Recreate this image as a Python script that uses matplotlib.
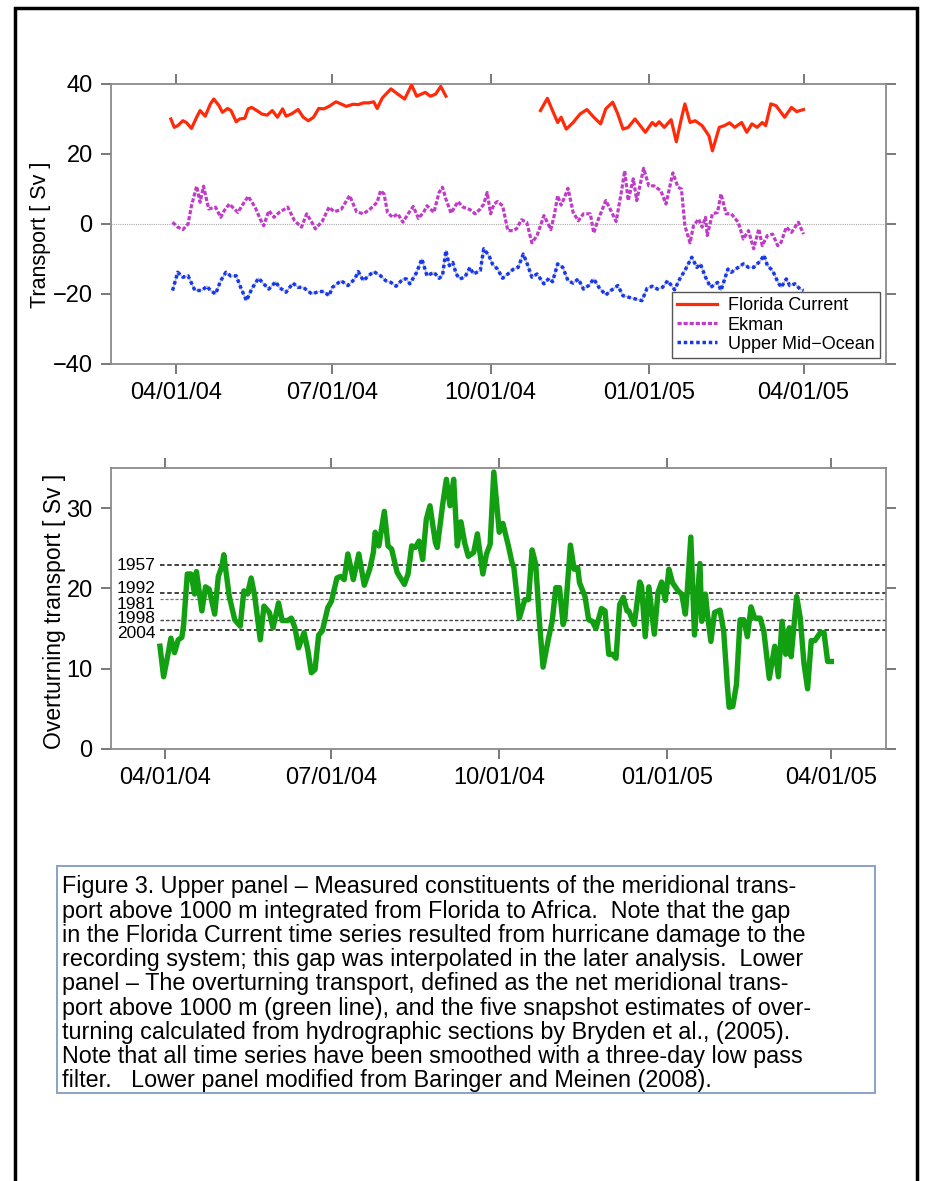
import numpy as np
import matplotlib
matplotlib.use("Agg")
from matplotlib import pyplot as plt
import matplotlib.dates as mdates
from matplotlib.patches import Rectangle

plt.rcParams['font.family'] = ['Liberation Sans', 'DejaVu Sans']

# day offsets are counted from 04/01/04
fc_days_a = [-3, -1, 1, 4, 6, 9, 12, 14, 17, 20, 22, 25, 27, 30, 32, 35, 37, 40, 42, 44, 47, 50, 53, 56,
             59, 62, 64, 67, 71, 74, 77, 80, 83, 86, 89, 93, 96, 99, 103, 106, 109, 112, 115, 117, 120,
             125, 129, 133, 137, 140, 145, 148, 151, 154, 157]
fc_vals_a = [30.0, 27.6, 28.1, 29.5, 29.0, 27.3, 30.5, 32.4, 30.8, 34.3, 35.7, 33.8, 31.9, 33.0, 32.4,
             29.2, 30.0, 30.2, 32.9, 33.3, 32.4, 31.4, 31.1, 32.4, 30.5, 32.9, 30.8, 31.4, 32.7, 30.5,
             29.5, 30.5, 33.0, 32.9, 33.6, 34.9, 34.3, 33.6, 34.2, 34.1, 34.6, 34.6, 34.9, 33.0, 36.0,
             38.6, 37.1, 35.7, 39.7, 36.5, 37.6, 36.5, 37.1, 39.3, 36.5]
fc_days_b = [212, 216, 219, 222, 224, 227, 231, 235, 239, 243, 247, 250, 254, 257, 260, 263, 267, 270,
             273, 277, 279, 281, 284, 288, 291, 294, 296, 299, 302, 306, 310, 312, 316, 319, 322, 325,
             329, 332, 335, 338, 341, 343, 346, 349, 354, 358, 361, 365]
fc_vals_b = [32.4, 35.9, 32.4, 29.0, 30.5, 27.1, 29.0, 31.4, 32.7, 30.5, 28.6, 32.9, 34.8, 31.4, 27.1,
             27.6, 30.0, 28.1, 26.2, 29.0, 28.1, 29.2, 27.6, 29.8, 23.5, 30.2, 34.3, 29.0, 29.5, 28.1,
             25.2, 20.9, 27.6, 28.1, 28.9, 27.6, 29.0, 26.2, 28.6, 27.6, 29.0, 28.1, 34.3, 33.8, 30.5,
             33.3, 32.1, 32.7]

ek_days = [-2, 1, 4, 7, 9, 12, 14, 16, 19, 23, 26, 28, 31, 36, 39, 42, 46, 49, 51, 54, 57, 60, 65, 69,
           73, 76, 79, 81, 85, 89, 92, 96, 101, 105, 109, 113, 117, 119, 121, 123, 126, 129, 132, 135,
           138, 141, 144, 146, 150, 153, 155, 157, 160, 164, 167, 171, 174, 177, 179, 181, 183, 185,
           187, 190, 193, 196, 198, 201, 204, 207, 210, 212, 214, 216, 218, 220, 222, 224, 226, 228,
           231, 234, 237, 241, 243, 245, 250, 253, 256, 259, 261, 263, 266, 268, 272, 275, 278, 282,
           285, 289, 292, 294, 296, 299, 301, 304, 306, 308, 309, 312, 315, 317, 320, 323, 327, 330,
           333, 336, 339, 341, 344, 347, 350, 352, 355, 358, 362, 365]
ek_vals = [0.5, -0.9, -1.6, 0.0, 5.2, 10.8, 6.2, 10.8, 4.3, 4.8, 1.9, 3.8, 5.7, 3.3, 5.7, 7.9, 4.8, 1.4,
           -0.5, 3.8, 1.9, 3.3, 4.8, 0.9, -0.9, 2.9, 0.5, -1.4, 0.7, 4.8, 3.5, 4.1, 8.1, 3.5, 2.9, 4.3,
           6.2, 9.5, 8.6, 3.3, 1.9, 2.9, 0.5, 2.9, 5.0, 1.6, 3.3, 5.2, 3.3, 9.0, 10.5, 7.1, 3.1, 6.4,
           4.8, 4.1, 2.9, 4.3, 5.7, 9.0, 2.9, 5.7, 6.4, 5.2, -1.9, -1.9, -1.4, 1.2, 0.5, -5.4, -3.3,
           -0.5, 2.4, 0.5, -1.6, 2.4, 8.1, 5.4, 7.6, 10.2, 3.3, 0.9, 2.9, 2.9, -2.6, 0.5, 6.7, 3.8,
           0.7, 9.0, 15.2, 6.7, 12.9, 6.7, 15.9, 10.9, 10.9, 9.5, 5.7, 14.6, 10.5, 10.0, -0.5, -5.4,
           -0.5, 1.4, -0.9, 1.9, -3.3, 2.9, 3.3, 8.6, 2.9, 2.9, 0.5, -4.3, -1.9, -7.1, -1.4, -6.2,
           -3.3, -2.9, -6.2, -5.2, -0.9, -2.4, 0.5, -2.9]

umo_days = [-2, 1, 4, 7, 11, 15, 18, 20, 23, 26, 29, 32, 35, 38, 41, 44, 48, 51, 54, 58, 60, 64, 68,
            71, 74, 79, 83, 86, 89, 91, 96, 100, 104, 106, 109, 112, 115, 119, 122, 125, 128, 132,
            134, 136, 140, 143, 146, 150, 153, 155, 157, 159, 161, 163, 165, 168, 171, 173, 177, 179,
            182, 184, 187, 190, 193, 196, 199, 202, 204, 207, 210, 214, 217, 219, 222, 225, 228, 231,
            234, 237, 240, 243, 246, 250, 253, 257, 260, 263, 267, 271, 274, 277, 280, 283, 286, 290,
            293, 296, 300, 303, 305, 308, 311, 315, 317, 321, 323, 327, 330, 333, 336, 340, 342, 344,
            347, 350, 352, 355, 357, 360, 363, 365]
umo_vals = [-19.0, -13.8, -15.2, -14.8, -19.0, -19.0, -17.8, -19.0, -20.0, -16.2, -13.8, -14.9, -14.8,
            -18.6, -21.9, -18.6, -15.5, -17.1, -18.6, -16.5, -18.1, -19.5, -16.9, -18.1, -18.1, -20.0,
            -19.3, -19.3, -20.5, -18.1, -16.2, -17.6, -15.7, -13.6, -16.2, -14.8, -13.6, -14.8, -16.2,
            -16.7, -17.8, -15.7, -15.7, -17.1, -13.8, -10.0, -14.8, -13.8, -15.5, -14.8, -7.6, -11.9,
            -11.0, -14.3, -15.7, -15.2, -12.4, -14.3, -13.3, -7.1, -9.0, -11.4, -12.9, -15.5, -14.3,
            -13.0, -12.4, -8.6, -11.0, -15.2, -14.3, -17.1, -15.5, -16.5, -11.4, -12.4, -16.2, -16.9,
            -15.7, -18.6, -17.6, -15.7, -18.1, -20.3, -19.0, -17.6, -20.5, -20.9, -21.4, -21.9, -18.4,
            -17.8, -18.6, -18.1, -16.2, -18.8, -15.7, -13.3, -9.5, -12.4, -11.4, -15.2, -18.1, -16.7,
            -19.0, -12.9, -13.8, -12.4, -11.4, -12.4, -12.4, -10.5, -8.9, -11.9, -13.3, -16.5, -18.1,
            -15.7, -17.6, -17.1, -18.6, -19.0]

mot_days = [-3, -1, 1, 3, 5, 7, 9, 10, 12, 14, 16, 17, 20, 22, 24, 27, 29, 31, 32, 35, 38, 41, 43, 45,
            47, 49, 52, 54, 57, 59, 62, 64, 67, 69, 71, 73, 76, 78, 80, 82, 84, 86, 89, 91, 94, 96,
            98, 100, 103, 106, 109, 112, 114, 115, 117, 120, 122, 124, 127, 131, 133, 135, 137, 139,
            141, 143, 145, 148, 149, 152, 154, 156, 158, 160, 162, 164, 166, 169, 171, 174, 176, 178,
            180, 183, 185, 188, 190, 191, 194, 197, 199, 201, 203, 205, 207, 210, 212, 214, 216, 218,
            219, 222, 224, 226, 227, 230, 232, 234, 236, 239, 241, 243, 245, 247, 249, 251, 253, 254,
            257, 260, 261, 263, 265, 268, 270, 272, 274, 276, 278, 281, 283, 285, 286, 288, 290, 293,
            294, 296, 297, 299, 301, 304, 306, 308, 309, 311, 313, 315, 317, 319, 321, 323, 326, 328,
            331, 334, 336, 338, 340, 342, 343, 346, 348, 350, 352, 354, 356, 359, 361, 363, 365]
mot_vals = [12.8, 9.0, 11.3, 13.8, 12.0, 13.6, 13.9, 15.5, 21.8, 21.8, 19.3, 22.1, 17.2, 20.2, 19.9,
            16.8, 21.5, 22.8, 24.2, 19.0, 16.1, 15.3, 19.7, 19.3, 21.3, 19.0, 13.6, 17.8, 17.0, 15.1,
            18.2, 16.0, 16.0, 16.3, 15.1, 12.6, 14.5, 12.4, 9.5, 9.9, 14.2, 14.7, 17.6, 18.4, 21.3,
            21.5, 21.1, 24.3, 21.1, 24.3, 20.4, 22.4, 24.5, 27.0, 25.3, 29.6, 25.3, 24.9, 22.0, 20.5,
            21.8, 25.3, 25.1, 25.9, 23.6, 28.6, 30.3, 25.7, 25.1, 30.5, 33.6, 30.3, 33.6, 25.3, 28.3,
            25.7, 24.0, 24.5, 26.8, 21.8, 24.3, 25.5, 34.5, 27.0, 28.1, 25.3, 23.2, 22.6, 16.3, 18.6,
            18.6, 24.8, 23.0, 15.9, 10.2, 13.8, 15.9, 20.1, 20.1, 15.5, 16.3, 25.4, 22.4, 22.6, 20.7,
            19.0, 16.1, 15.9, 15.0, 17.5, 17.2, 11.8, 11.8, 11.3, 18.0, 18.9, 17.2, 17.2, 15.5, 20.8,
            20.3, 14.0, 20.2, 14.3, 19.5, 20.8, 18.5, 22.4, 20.7, 19.7, 19.3, 16.8, 19.5, 26.4, 14.2,
            23.1, 15.9, 19.3, 17.0, 13.4, 17.0, 17.3, 14.7, 8.0, 5.2, 5.3, 8.0, 16.1, 16.1, 14.0, 17.7,
            16.3, 16.3, 14.7, 8.8, 12.8, 9.0, 15.9, 11.8, 15.1, 11.5, 19.0, 16.3, 10.7, 7.5, 13.5,
            13.5, 14.5, 14.5, 10.9, 10.9]

# Bryden et al. (2005) snapshot estimates
bryden_years = ['1957', '1992', '1981', '1998', '2004']
bryden_vals = [22.9, 19.4, 18.7, 16.1, 14.8]

tick_dates = ['2004-04-01', '2004-07-01', '2004-10-01', '2005-01-01', '2005-04-01']

caption = [
    "Figure 3. Upper panel \u2013 Measured constituents of the meridional trans-",
    "port above 1000 m integrated from Florida to Africa.  Note that the gap",
    "in the Florida Current time series resulted from hurricane damage to the",
    "recording system; this gap was interpolated in the later analysis.  Lower",
    "panel \u2013 The overturning transport, defined as the net meridional trans-",
    "port above 1000 m (green line), and the five snapshot estimates of over-",
    "turning calculated from hydrographic sections by Bryden et al., (2005).",
    "Note that all time series have been smoothed with a three-day low pass",
    "filter.   Lower panel modified from Baringer and Meinen (2008).",
]

base = np.datetime64('2004-04-01')


def to_dates(days):
    return base + np.array(days, dtype='timedelta64[D]')


def style_axes(ax):
    for s in ax.spines.values():
        s.set_color('#8a8a8a')
        s.set_linewidth(1.3)
    ax.tick_params(which='both', direction='out', length=7, width=1.1, color='#555555',
                   top=True, right=True, labelsize=17, pad=6)
    ticks = mdates.date2num(np.array(tick_dates, dtype='datetime64[D]'))
    ax.xaxis.set_major_locator(plt.FixedLocator(ticks))
    ax.xaxis.set_major_formatter(mdates.DateFormatter('%m/%d/%y'))


fig = plt.figure(figsize=(9.27, 11.81), dpi=100)

# upper panel
ax1 = fig.add_axes([0.1194, 0.6918, 0.8364, 0.2371])
ax1.axhline(0, color='#aaaaaa', lw=0.8, ls=(0, (1, 1)), zorder=1)
ax1.plot(to_dates(fc_days_a), fc_vals_a, color='#ff2a0a', lw=2.3, label='Florida Current', zorder=3)
ax1.plot(to_dates(fc_days_b), fc_vals_b, color='#ff2a0a', lw=2.3, zorder=3)
ax1.plot(to_dates(ek_days), ek_vals, color='#c03cc8', lw=2.3, ls=(0, (1.3, 0.6)), label='Ekman', zorder=3)
ax1.plot(to_dates(umo_days), umo_vals, color='#b8b8c8', lw=1.1, zorder=2)
ax1.plot(to_dates(umo_days), umo_vals, color='#1537f0', lw=2.5, ls=(0, (1.0, 0.8)),
         label='Upper Mid\u2212Ocean', zorder=3)
ax1.set_ylim(-40, 40)
ax1.set_yticks([-40, -20, 0, 20, 40])
ax1.set_xlim(base - np.timedelta64(38, 'D'), base + np.timedelta64(413, 'D'))
style_axes(ax1)
ax1.set_ylabel('Transport [ Sv ]', fontsize=15.5, va='center')
ax1.yaxis.set_label_coords(-0.091, 0.46)
leg = ax1.legend(loc='lower right', bbox_to_anchor=(0.992, 0.021), borderaxespad=0, fontsize=13,
                 frameon=True, fancybox=False, edgecolor='#555555', framealpha=1,
                 handlelength=2.2, handletextpad=0.6, labelspacing=0.12, borderpad=0.3)
leg.get_frame().set_linewidth(1.0)

# lower panel
ax2 = fig.add_axes([0.1194, 0.3658, 0.8364, 0.2379])
for yr, v, lw, c, dy in zip(bryden_years, bryden_vals, [1.3, 1.3, 0.9, 1.0, 1.3],
                            ['#333333', '#333333', '#777777', '#444444', '#333333'],
                            [0.0, 0.55, -0.7, 0.1, -0.4]):
    ax2.axhline(v, xmin=0.0636, xmax=1, color=c, lw=lw, ls=(0, (2.5, 1.5)), zorder=1)
    ax2.text(0.0584, v + dy, yr, transform=ax2.get_yaxis_transform(), ha='right', va='center',
             fontsize=12.5)
ax2.plot(to_dates(mot_days), mot_vals, color='#12a012', lw=3.9, solid_joinstyle='round', zorder=3)
ax2.set_ylim(0, 35)
ax2.set_yticks([0, 10, 20, 30])
ax2.set_xlim(base - np.timedelta64(30, 'D'), base + np.timedelta64(395, 'D'))
style_axes(ax2)
ax2.set_ylabel('Overturning transport [ Sv ]', fontsize=16.5, va='center')
ax2.yaxis.set_label_coords(-0.072, 0.49)

# caption box
fig.patches.append(Rectangle((57 / 927, 1 - 1093 / 1181), 818 / 927, 227 / 1181, transform=fig.transFigure,
                             fill=False, edgecolor='#8aa2c8', lw=1.4))
for i, line in enumerate(caption):
    fig.text(62 / 927, 1 - (887 + i * 24.2) / 1181, line, fontsize=16.8, va='center', ha='left')

# outer frame
fig.patches.append(Rectangle((15 / 927, -0.05), 902 / 927, 1.05 - 8 / 1181, transform=fig.transFigure,
                             fill=False, edgecolor='black', lw=2.5))

fig.savefig('out.png', dpi=100)
